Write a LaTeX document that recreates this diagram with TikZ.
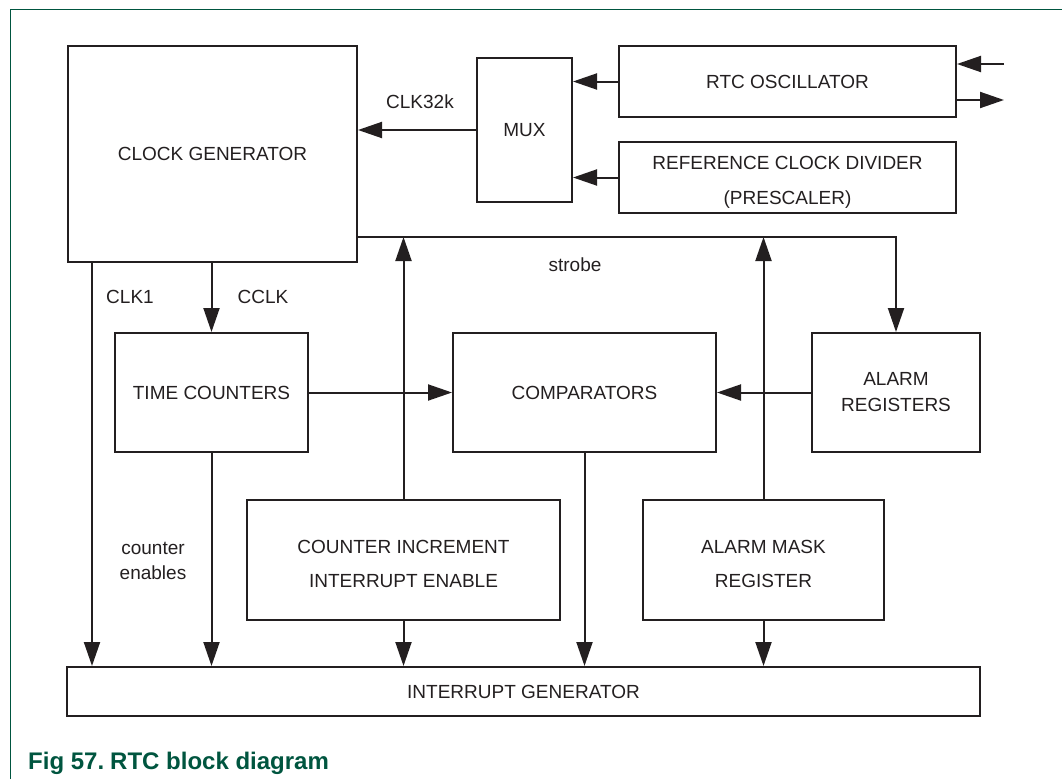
\documentclass[tikz,border=0pt]{standalone}
\usepackage{fontspec}
\setmainfont{Liberation Sans}
\usetikzlibrary{arrows.meta}
\definecolor{ink}{HTML}{231F20}
\definecolor{nxpgreen}{HTML}{00553F}
\tikzset{
  blk/.style={draw=ink, line width=2pt, rectangle, inner sep=0pt, align=center,
    text=ink, font=\fontsize{19}{23}\selectfont},
  conn/.style={draw=ink, line width=2pt, -{Triangle[length=24pt,width=16pt]}},
  lbl/.style={text=ink, font=\fontsize{19}{23}\selectfont, inner sep=0pt, align=center},
}
\begin{document}
\begin{tikzpicture}[x=1pt, y=-1pt]
\useasboundingbox (0,0) rectangle (1062,779);
% frame
\draw[nxpgreen, line width=1.4pt] (10.5,779) -- (10.5,9.5) -- (1062,9.5);
% blocks
\node[blk, minimum width=289pt, minimum height=216pt] (cg) at (212.5,154) {CLOCK GENERATOR};
\node[blk, minimum width=95pt, minimum height=144pt] (mux) at (524.5,130) {MUX};
\node[blk, minimum width=337pt, minimum height=71pt] (osc) at (787.5,81.5) {RTC OSCILLATOR};
\node[blk, minimum width=337pt, minimum height=71pt] (ref) at (787.5,177.5) {};
\node[lbl] (reftxt) at ([yshift=-5pt]ref.center) {REFERENCE CLOCK DIVIDER\\[12pt](PRESCALER)};
\node[blk, minimum width=193pt, minimum height=119pt] (tc) at (211.5,392.5) {TIME COUNTERS};
\node[blk, minimum width=263pt, minimum height=119pt] (comp) at (584.5,392.5) {COMPARATORS};
\node[blk, minimum width=168pt, minimum height=119pt] (alarm) at (896,392.5) {ALARM\\[3pt]REGISTERS};
\node[blk, minimum width=313pt, minimum height=120pt] (cie) at (403.5,560) {};
\node[lbl] (cietxt) at ([yshift=-4pt]cie.center) {COUNTER INCREMENT\\[11pt]INTERRUPT ENABLE};
\node[blk, minimum width=241pt, minimum height=120pt] (am) at (763.5,560) {};
\node[lbl] (amtxt) at ([yshift=-4pt]am.center) {ALARM MASK\\[11pt]REGISTER};
\node[blk, minimum width=913pt, minimum height=49pt] (ig) at (523.5,691.5) {INTERRUPT GENERATOR};
% helper coordinates
\coordinate (inA) at (1004,64);
\coordinate (outA) at (1004,100);
\coordinate (strobeY) at (0,237);
\coordinate (clk1) at (92,262);
% connectors
\draw[conn] (inA) -- (inA -| osc.east);
\draw[conn] (outA -| osc.east) -- (outA);
\draw[conn] (osc.west) -- (osc.west -| mux.east);
\draw[conn] (ref.west) -- (ref.west -| mux.east);
\draw[conn] (mux.west) -- (mux.west -| cg.east);
\draw[conn] (cg.east |- strobeY) -| (alarm.north);
\draw[conn] (cie.north) -- (cie.north |- strobeY);
\draw[conn] (am.north) -- (am.north |- strobeY);
\draw[conn] (tc.north |- cg.south) -- (tc.north);
\draw[conn] (clk1) -- (clk1 |- ig.north);
\draw[conn] (tc.south) -- (tc.south |- ig.north);
\draw[conn] (tc.east) -- (comp.west);
\draw[conn] (alarm.west) -- (comp.east);
\draw[conn] (comp.south) -- (comp.south |- ig.north);
\draw[conn] (cie.south) -- (cie.south |- ig.north);
\draw[conn] (am.south) -- (am.south |- ig.north);
% labels
\node[lbl] (lclk32) at (420,102) {CLK32k};
\node[lbl] (lclk1) at (130,297) {CLK1};
\node[lbl] (lcclk) at (263,297) {CCLK};
\node[lbl] (lstrobe) at (575,265) {strobe};
\node[lbl] (lce) at (153,561) {counter\\[2pt]enables};
% caption
\node[anchor=base west, inner sep=0pt, text=nxpgreen, font=\fontsize{24}{28}\selectfont\bfseries] (cap) at (28,769) {Fig 57.\hspace{6pt}RTC block diagram};
\end{tikzpicture}
\end{document}
